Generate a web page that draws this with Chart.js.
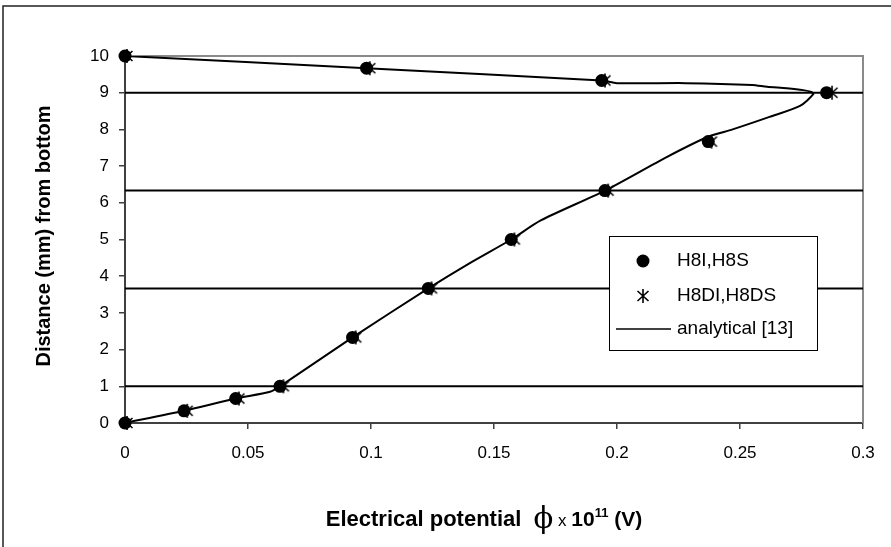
<!DOCTYPE html>
<html>
<head>
<meta charset="utf-8">
<script src="https://cdn.jsdelivr.net/npm/chart.js@4.4.0/dist/chart.umd.min.js"></script>
<style>
  html, body { margin: 0; padding: 0; background: #fff; }
  #wrap { width: 891px; height: 547px; position: relative; }
</style>
</head>
<body>
<div id="wrap"><canvas id="myChart"></canvas></div>
<script>
// measured points (potential x 1e11, distance in mm)
var h8iX = [0, 0.024, 0.045, 0.063, 0.0925, 0.1233, 0.157, 0.1951, 0.2371, 0.2852, 0.1938, 0.0982, 0];
var h8iY = [0, 0.333, 0.667, 1, 2.333, 3.667, 5, 6.333, 7.667, 9, 9.333, 9.667, 10];
var h8dX = [0.0008, 0.0253, 0.0463, 0.0644, 0.0938, 0.1246, 0.1583, 0.1964, 0.2384, 0.2874, 0.1951, 0.0995, 0.0008];
var h8dY = [0, 0.333, 0.667, 1, 2.333, 3.667, 5, 6.333, 7.667, 9, 9.333, 9.667, 10];

// analytical curve [13]
var curveX = [0, 0.024, 0.045, 0.059, 0.063, 0.0925, 0.1233, 0.14, 0.157, 0.169, 0.1951, 0.22, 0.237, 0.247, 0.262, 0.2744, 0.2798, 0.279, 0.2757, 0.269, 0.261, 0.255, 0.228, 0.2, 0.1938, 0.0982, 0];
var curveY = [0, 0.333, 0.667, 0.85, 1, 2.333, 3.667, 4.35, 5.0, 5.52, 6.333, 7.24, 7.8, 8.0, 8.34, 8.64, 8.96, 9.02, 9.07, 9.12, 9.16, 9.21, 9.26, 9.26, 9.333, 9.667, 10];

// layer boundaries (mm)
var layerY = [1, 3.667, 6.333, 9];
var xRange = [0, 0.3];

var labels = ['H8I,H8S', 'H8DI,H8DS', 'analytical [13]'];

function pts(xs, ys) {
  return xs.map(function (x, i) { return { x: x, y: ys[i] }; });
}

function makeStar() {
  var c = document.createElement('canvas');
  c.width = 16; c.height = 16;
  var g = c.getContext('2d');
  g.strokeStyle = '#000';
  g.lineWidth = 1.6;
  g.beginPath();
  g.moveTo(2.5, 3); g.lineTo(13.5, 13);
  g.moveTo(13.5, 3); g.lineTo(2.5, 13);
  g.moveTo(8, 1); g.lineTo(8, 15);
  g.stroke();
  return c;
}
var starImg = makeStar();

var datasets = [
  {
    label: labels[0], data: pts(h8iX, h8iY), showLine: false, clip: false,
    pointStyle: 'circle', pointRadius: 6.5, backgroundColor: '#000', borderColor: '#000', borderWidth: 0, order: 0
  },
  {
    label: labels[1], data: pts(h8dX, h8dY), showLine: false, clip: false,
    pointStyle: starImg, pointRadius: 7, order: 1
  },
  {
    label: labels[2], data: pts(curveX, curveY), showLine: true, fill: false,
    borderColor: '#000', borderWidth: 2, pointRadius: 0, tension: 0.25, order: 2
  }
];
layerY.forEach(function (y) {
  datasets.push({
    label: 'layer', data: pts(xRange, [y, y]), showLine: true, fill: false,
    borderColor: '#000', borderWidth: 2, pointRadius: 0, order: 3
  });
});

var FONT = "'Liberation Sans', Arial, sans-serif";

var decor = {
  id: 'decor',
  beforeDraw: function (chart) {
    var c = chart.ctx;
    c.save();
    c.strokeStyle = '#222';
    c.lineWidth = 1.5;
    c.beginPath();
    c.moveTo(3, 547); c.lineTo(3, 6); c.lineTo(891, 6);
    c.stroke();
    c.restore();
  },
  beforeDatasetsDraw: function (chart) {
    var a = chart.chartArea, c = chart.ctx;
    c.save();
    c.strokeStyle = '#8a8a8a';
    c.lineWidth = 2;
    c.beginPath();
    c.moveTo(a.left, a.top); c.lineTo(a.right, a.top); c.lineTo(a.right, a.bottom);
    c.stroke();
    c.restore();
  },
  afterDraw: function (chart) {
    var c = chart.ctx;
    c.save();
    c.fillStyle = '#000';
    // y title
    c.save();
    c.translate(44, 236);
    c.rotate(-Math.PI / 2);
    c.font = 'bold 20px ' + FONT;
    c.textAlign = 'center';
    c.textBaseline = 'middle';
    c.fillText('Distance (mm) from bottom', 0, 0);
    c.restore();

    // x title with mixed fonts
    var parts = [
      { t: 'Electrical potential  ', f: 'bold 22px ' + FONT, dy: 0 },
      { t: '\u03D5', f: '29px "DejaVu Serif", serif', dy: 2 },
      { t: ' x ', f: '17px ' + FONT, dy: 0 },
      { t: '10', f: 'bold 21px ' + FONT, dy: 0 },
      { t: '11', f: 'bold 13px ' + FONT, dy: -9 },
      { t: ' (V)', f: 'bold 21px ' + FONT, dy: 0 }
    ];
    var total = 0;
    parts.forEach(function (p) { c.font = p.f; p.w = c.measureText(p.t).width; total += p.w; });
    var x = 484 - total / 2, base = 526;
    c.textAlign = 'left';
    c.textBaseline = 'alphabetic';
    parts.forEach(function (p) { c.font = p.f; c.fillText(p.t, x, base + p.dy); x += p.w; });

    // legend box
    var lx = 609, ly = 236, lw = 208, lh = 114;
    c.fillStyle = '#fff';
    c.fillRect(lx, ly, lw, lh);
    c.strokeStyle = '#000';
    c.lineWidth = 1;
    c.strokeRect(lx + 0.5, ly + 0.5, lw, lh);
    var rows = [261, 296, 329];
    c.fillStyle = '#000';
    c.beginPath();
    c.arc(643, rows[0], 6.5, 0, Math.PI * 2);
    c.fill();
    c.drawImage(starImg, 643 - 8, rows[1] - 8);
    c.lineWidth = 1.5;
    c.beginPath();
    c.moveTo(616, rows[2]); c.lineTo(671, rows[2]);
    c.stroke();
    c.font = '19px ' + FONT;
    c.textBaseline = 'middle';
    labels.forEach(function (t, i) { c.fillText(t, 677, rows[i]); });
    c.restore();
  }
};

var ctx = document.getElementById('myChart').getContext('2d');
var myChart = new Chart(ctx, {
  type: 'scatter',
  data: { datasets: datasets },
  options: {
    responsive: true,
    maintainAspectRatio: false,
    animation: false,
    layout: { padding: { top: 56, right: 28, left: 0, bottom: 0 } },
    plugins: {
      legend: { display: false },
      tooltip: { enabled: false }
    },
    scales: {
      x: {
        type: 'linear', min: xRange[0], max: xRange[1],
        afterFit: function (s) { s.height = 124; },
        ticks: {
          stepSize: 0.05, color: '#000', padding: 14, font: { family: FONT, size: 17 }, maxRotation: 0,
          callback: function (v) { return String(Math.round(v * 100) / 100); }
        },
        grid: { drawOnChartArea: false, tickLength: 6, color: '#404040', lineWidth: 1.5 },
        border: { color: '#404040', width: 2 }
      },
      y: {
        type: 'linear', min: 0, max: 10,
        afterFit: function (s) { s.width = 125; },
        ticks: { stepSize: 1, color: '#000', padding: 10, font: { family: FONT, size: 17 } },
        grid: { drawOnChartArea: false, tickLength: 6, color: '#404040', lineWidth: 1.5 },
        border: { color: '#404040', width: 2 }
      }
    }
  },
  plugins: [decor]
});
</script>
</body>
</html>
